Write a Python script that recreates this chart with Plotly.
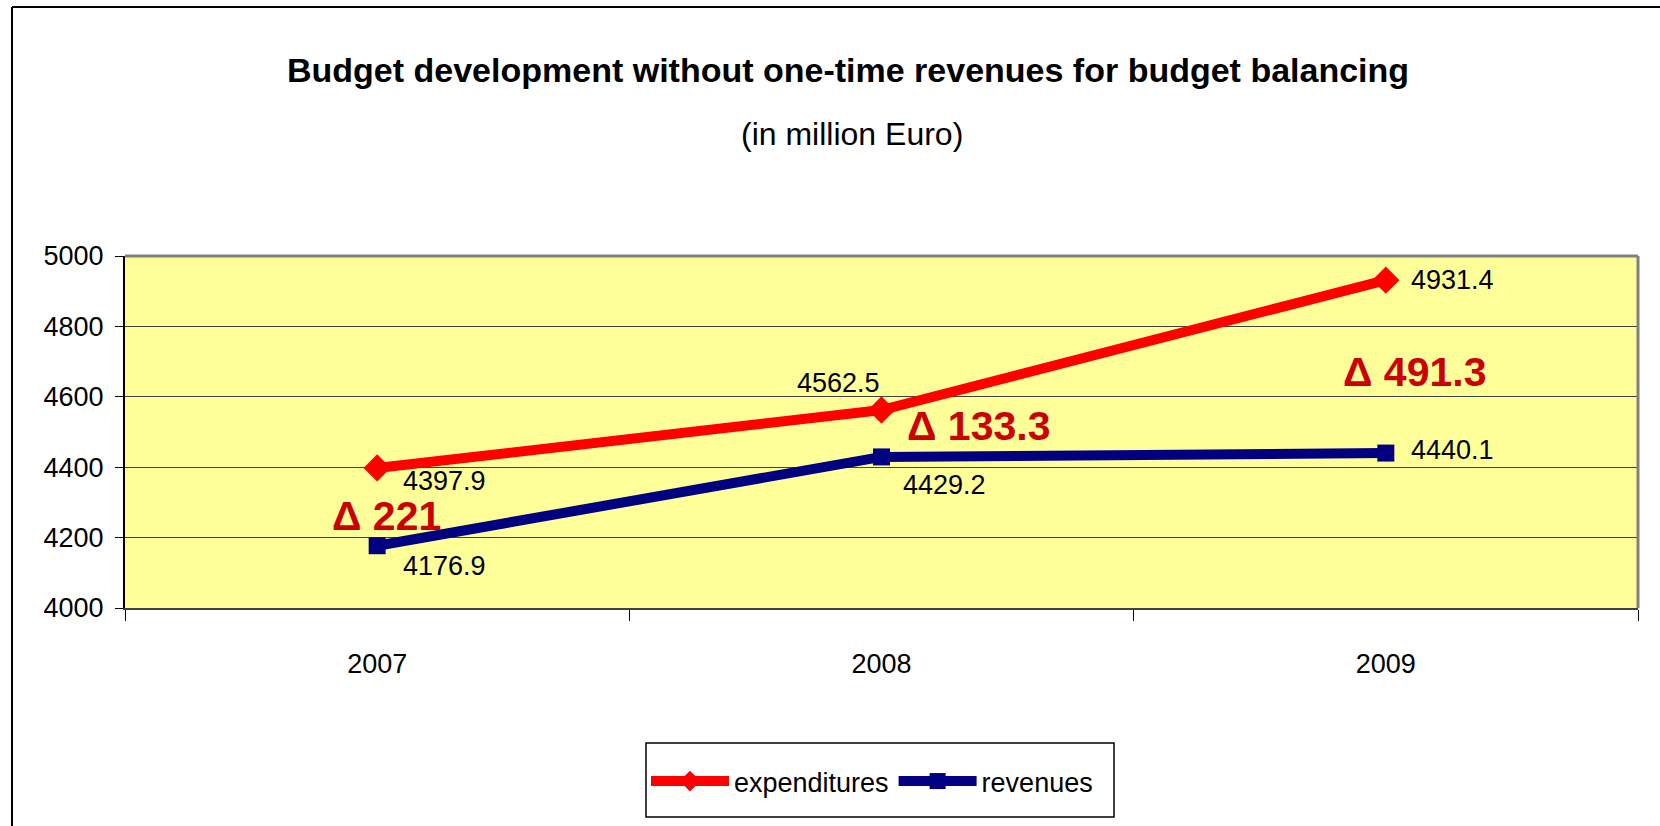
import plotly.graph_objects as go

years = ["2007", "2008", "2009"]
expenditures = [4397.9, 4562.5, 4931.4]
revenues = [4176.9, 4429.2, 4440.1]
y_ticks = [4000, 4200, 4400, 4600, 4800, 5000]

FONT = "Liberation Sans, Arial, sans-serif"

fig = go.Figure()
fig.add_trace(go.Scatter(
    x=years, y=expenditures, name="expenditures", mode="lines+markers",
    line=dict(color="#FF0000", width=10),
    marker=dict(symbol="diamond", size=21, color="#FF0000"),
))
fig.add_trace(go.Scatter(
    x=years, y=revenues, name="revenues", mode="lines+markers",
    line=dict(color="#000080", width=10),
    marker=dict(symbol="square", size=17, color="#000080"),
))

ann = []
# data labels (offsets in px); x given as category index
exp_off = [(24, -13, "left"), (0, 27, "right"), (23, 0, "left")]
rev_off = [(24, -20, "left"), (19, -28, "left"), (23, 3, "left")]
for i in range(len(years)):
    for vals, offs in ((expenditures, exp_off), (revenues, rev_off)):
        dx, dy, xa = offs[i]
        ann.append(dict(x=i, y=vals[i], xref="x", yref="y", text=f"{vals[i]:.1f}",
                        showarrow=False, xanchor=xa, yanchor="middle",
                        xshift=dx, yshift=dy,
                        font=dict(family=FONT, size=27, color="black")))
# delta labels
delta_pos = [(0.018, 4262), (1.192, 4517), (2.057, 4670)]
for i in range(len(years)):
    d = round(expenditures[i] - revenues[i], 1)
    x, y = delta_pos[i]
    ann.append(dict(x=x, y=y, xref="x", yref="y", text=f"<b>Δ {d:g}</b>",
                    showarrow=False, xanchor="center", yanchor="middle",
                    font=dict(family=FONT, size=41, color="#CC0000")))

L, R, T, B = 125, 1638, 256, 608
W, H = 1660, 826
pw, ph = R - L, B - T


def px2paper(px, py):
    return (px - L) / pw, (B - py) / ph


tx, ty = px2paper(848, 70)
ann.append(dict(x=tx, y=ty, xref="paper", yref="paper",
                text="<b>Budget development without one-time revenues for budget balancing</b>",
                showarrow=False, xanchor="center", yanchor="middle",
                font=dict(family=FONT, size=34, color="black")))
sx, sy = px2paper(852, 134)
ann.append(dict(x=sx, y=sy, xref="paper", yref="paper",
                text="(in million Euro)", showarrow=False, xanchor="center", yanchor="middle",
                font=dict(family=FONT, size=32, color="black")))

fx0, fy0 = px2paper(12, 7)
fx1, fy1 = px2paper(1670, 840)
bx0, by0 = px2paper(646, 743)
bx1, by1 = px2paper(1114, 817)
shapes = [
    dict(type="line", xref="paper", yref="paper", x0=fx0, x1=fx0, y0=fy0, y1=fy1,
         line=dict(color="black", width=2)),
    dict(type="line", xref="paper", yref="paper", x0=fx0, x1=fx1, y0=fy0, y1=fy0,
         line=dict(color="black", width=2)),
    dict(type="line", xref="paper", yref="paper", x0=0, x1=1, y0=1, y1=1,
         line=dict(color="#808080", width=3)),
    dict(type="line", xref="paper", yref="paper", x0=1, x1=1, y0=0, y1=1,
         line=dict(color="#808080", width=3)),
    # legend box
    dict(type="rect", xref="paper", yref="paper", x0=bx0, x1=bx1, y0=by0, y1=by1,
         line=dict(color="black", width=1.5)),
]

lx, ly = px2paper(646, 757)
fig.update_layout(
    width=W, height=H,
    margin=dict(l=L, r=W - R, t=T, b=H - B, pad=0),
    paper_bgcolor="white", plot_bgcolor="#FFFF99",
    showlegend=True,
    legend=dict(orientation="h", x=lx, y=ly, xanchor="left", yanchor="top",
                borderwidth=0, bgcolor="rgba(0,0,0,0)",
                itemwidth=78, font=dict(family=FONT, size=27, color="black"),
                itemsizing="trace"),
    annotations=ann, shapes=shapes,
    xaxis=dict(type="category", range=[-0.5, 2.5], tickson="boundaries",
               ticks="outside", ticklen=11, tickcolor="black", tickwidth=1,
               showline=True, linecolor="#404040", linewidth=2,
               showgrid=False, ticklabelstandoff=31,
               tickfont=dict(family=FONT, size=27, color="black")),
    yaxis=dict(range=[4000, 5000], tickvals=y_ticks, ticks="outside", ticklen=8,
               tickcolor="black", showline=True, linecolor="black", linewidth=2,
               showgrid=True, gridcolor="#404040", gridwidth=1, zeroline=False,
               ticklabelstandoff=6,
               tickfont=dict(family=FONT, size=27, color="black")),
)

fig.write_html("out.html", post_script="document.body.style.margin='0';",
               config={"displayModeBar": False})
